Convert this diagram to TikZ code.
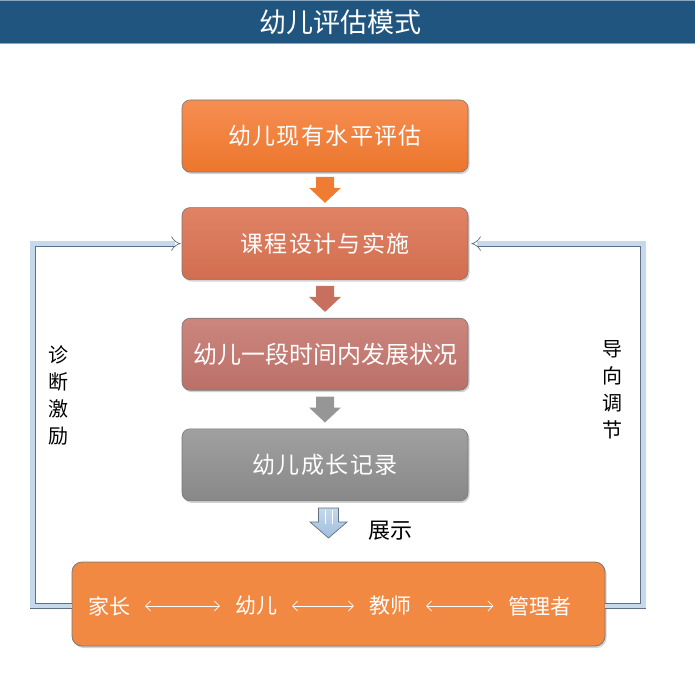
\documentclass[tikz,border=0pt]{standalone}
\usepackage{fontspec}
\setmainfont{Noto Sans CJK SC}
\newfontfamily\boxfont[LetterSpace=6]{Noto Sans CJK SC}
\usetikzlibrary{positioning}
\usetikzlibrary{calc}
\usetikzlibrary{shadows}
\usetikzlibrary{arrows.meta}
\definecolor{barblue}{RGB}{31,85,126}
\definecolor{barline}{RGB}{140,168,192}
\definecolor{boxline}{RGB}{120,120,120}
\definecolor{linkedge}{RGB}{94,112,130}
\definecolor{linkfill}{RGB}{198,217,236}
\definecolor{linkdeep}{RGB}{160,190,222}
\definecolor{orangetop}{RGB}{246,142,82}
\definecolor{orangebot}{RGB}{236,118,44}
\definecolor{orangearrow}{RGB}{238,124,50}
\definecolor{salmontop}{RGB}{224,130,100}
\definecolor{salmonbot}{RGB}{210,110,80}
\definecolor{salmonarrow}{RGB}{200,112,96}
\definecolor{rosetop}{RGB}{204,134,126}
\definecolor{rosebot}{RGB}{186,112,104}
\definecolor{greytop}{RGB}{160,160,160}
\definecolor{greybot}{RGB}{136,136,136}
\definecolor{greyarrow}{RGB}{150,150,150}
\definecolor{teamfill}{RGB}{242,137,67}

% block arrow between two boxes: colour, upper node, lower node
\newcommand{\flowdown}[3]{%
  \coordinate (mid) at ($(#2.south)!0.5!(#3.north)$);
  \fill[fill=#1] (mid) ++(-9,-13) -- ++(18,0) -- ++(0,11) -- ++(7,0)
    -- ++(-16,15) -- ++(-16,-15) -- ++(7,0) -- cycle;}

\begin{document}
\begin{tikzpicture}[x=1pt,y=-1pt,
  stepbox/.style={rounded corners=8pt, draw=boxline, line width=0.6pt,
    minimum width=286pt, minimum height=72pt, text=white,
    font=\boxfont\fontsize{23}{27}\selectfont,
    drop shadow={shadow xshift=1.5pt, shadow yshift=-2pt, opacity=0.35}},
  link/.style={draw=linkedge, line width=0.7pt, double=linkfill,
    double distance=4.5pt, -{Implies}},
  member/.style={text=white, inner sep=1pt, font=\fontsize{21}{25}\selectfont},
  both/.style={white, line width=0.7pt, shorten <=14pt, shorten >=14pt,
    {Straight Barb[length=5pt,width=10pt]}-{Straight Barb[length=5pt,width=10pt]}},
  sidelabel/.style={align=center, font=\fontsize{20}{27}\selectfont}]

\useasboundingbox (0,0) rectangle (695,679);

%---------------------------------------
% Title bar
%---------------------------------------
\fill[barblue] (0,0) rectangle (695,44);
\draw[barline, line width=1.5pt] (0,0.75) -- (695,0.75);
\draw[barline, line width=1.5pt] (0,43.5) -- (695,43.5);
\node[text=white, font=\fontsize{27}{31}\selectfont] (title) at (340,22) {幼儿评估模式};

%---------------------------------------
% Flow boxes
%---------------------------------------
\node[stepbox, top color=orangetop, bottom color=orangebot] (level) at (325,136) {幼儿现有水平评估};
\node[stepbox, below=35pt of level, top color=salmontop, bottom color=salmonbot] (design) {课程设计与实施};
\node[stepbox, below=38pt of design, top color=rosetop, bottom color=rosebot,
  font=\fontsize{24}{28}\selectfont] (growth) {幼儿一段时间内发展状况};
\node[stepbox, below=38pt of growth, top color=greytop, bottom color=greybot] (record) {幼儿成长记录};

% arrows between boxes
\flowdown{orangearrow}{level}{design}
\flowdown{salmonarrow}{design}{growth}
\flowdown{greyarrow}{growth}{record}

% show arrow
\coordinate (showtip) at (328.5,523);
\draw[linkedge, line width=0.7pt, top color=linkfill, bottom color=linkdeep]
  (showtip) ++(-10,-15) -- ++(20,0) -- ++(0,14) -- ++(8.5,0)
  -- ++(-18.5,16) -- ++(-18.5,-16) -- ++(8.5,0) -- cycle;
\draw[white, line width=1pt] (325,510) -- (325,524);
\draw[white, line width=1pt] (332,510) -- (332,524);
\node[font=\fontsize{22}{26}\selectfont] (show) at (390,531) {展示};

%---------------------------------------
% Bottom box: members
%---------------------------------------
\node[rounded corners=10pt, draw=boxline, line width=0.8pt, fill=teamfill,
  minimum width=533pt, minimum height=84pt,
  drop shadow={shadow xshift=1.5pt, shadow yshift=-2pt, opacity=0.35}] (team) at (338.5,604) {};

\node[member] (parent) at (109,606) {家长};
\node[member] (child) at (256,606) {幼儿};
\node[member] (teacher) at (390,606) {教师};
\node[member] (manager) at (540,606) {管理者};

\draw[both] (parent) -- (child);
\draw[both] (child) -- (teacher);
\draw[both] (teacher) -- (manager);

%---------------------------------------
% Feedback loops
%---------------------------------------
\draw[link, shorten >=1pt] (team.west |- parent) -- ++(-39,0) |- (design.west);
\draw[link, shorten >=3pt] (team.east |- manager) -- ++(38,0) |- (design.east);

\node[sidelabel] (diag) at (58,395) {诊\\断\\激\\励};
\node[sidelabel] (guide) at (612,390) {导\\向\\调\\节};

\end{tikzpicture}
\end{document}
